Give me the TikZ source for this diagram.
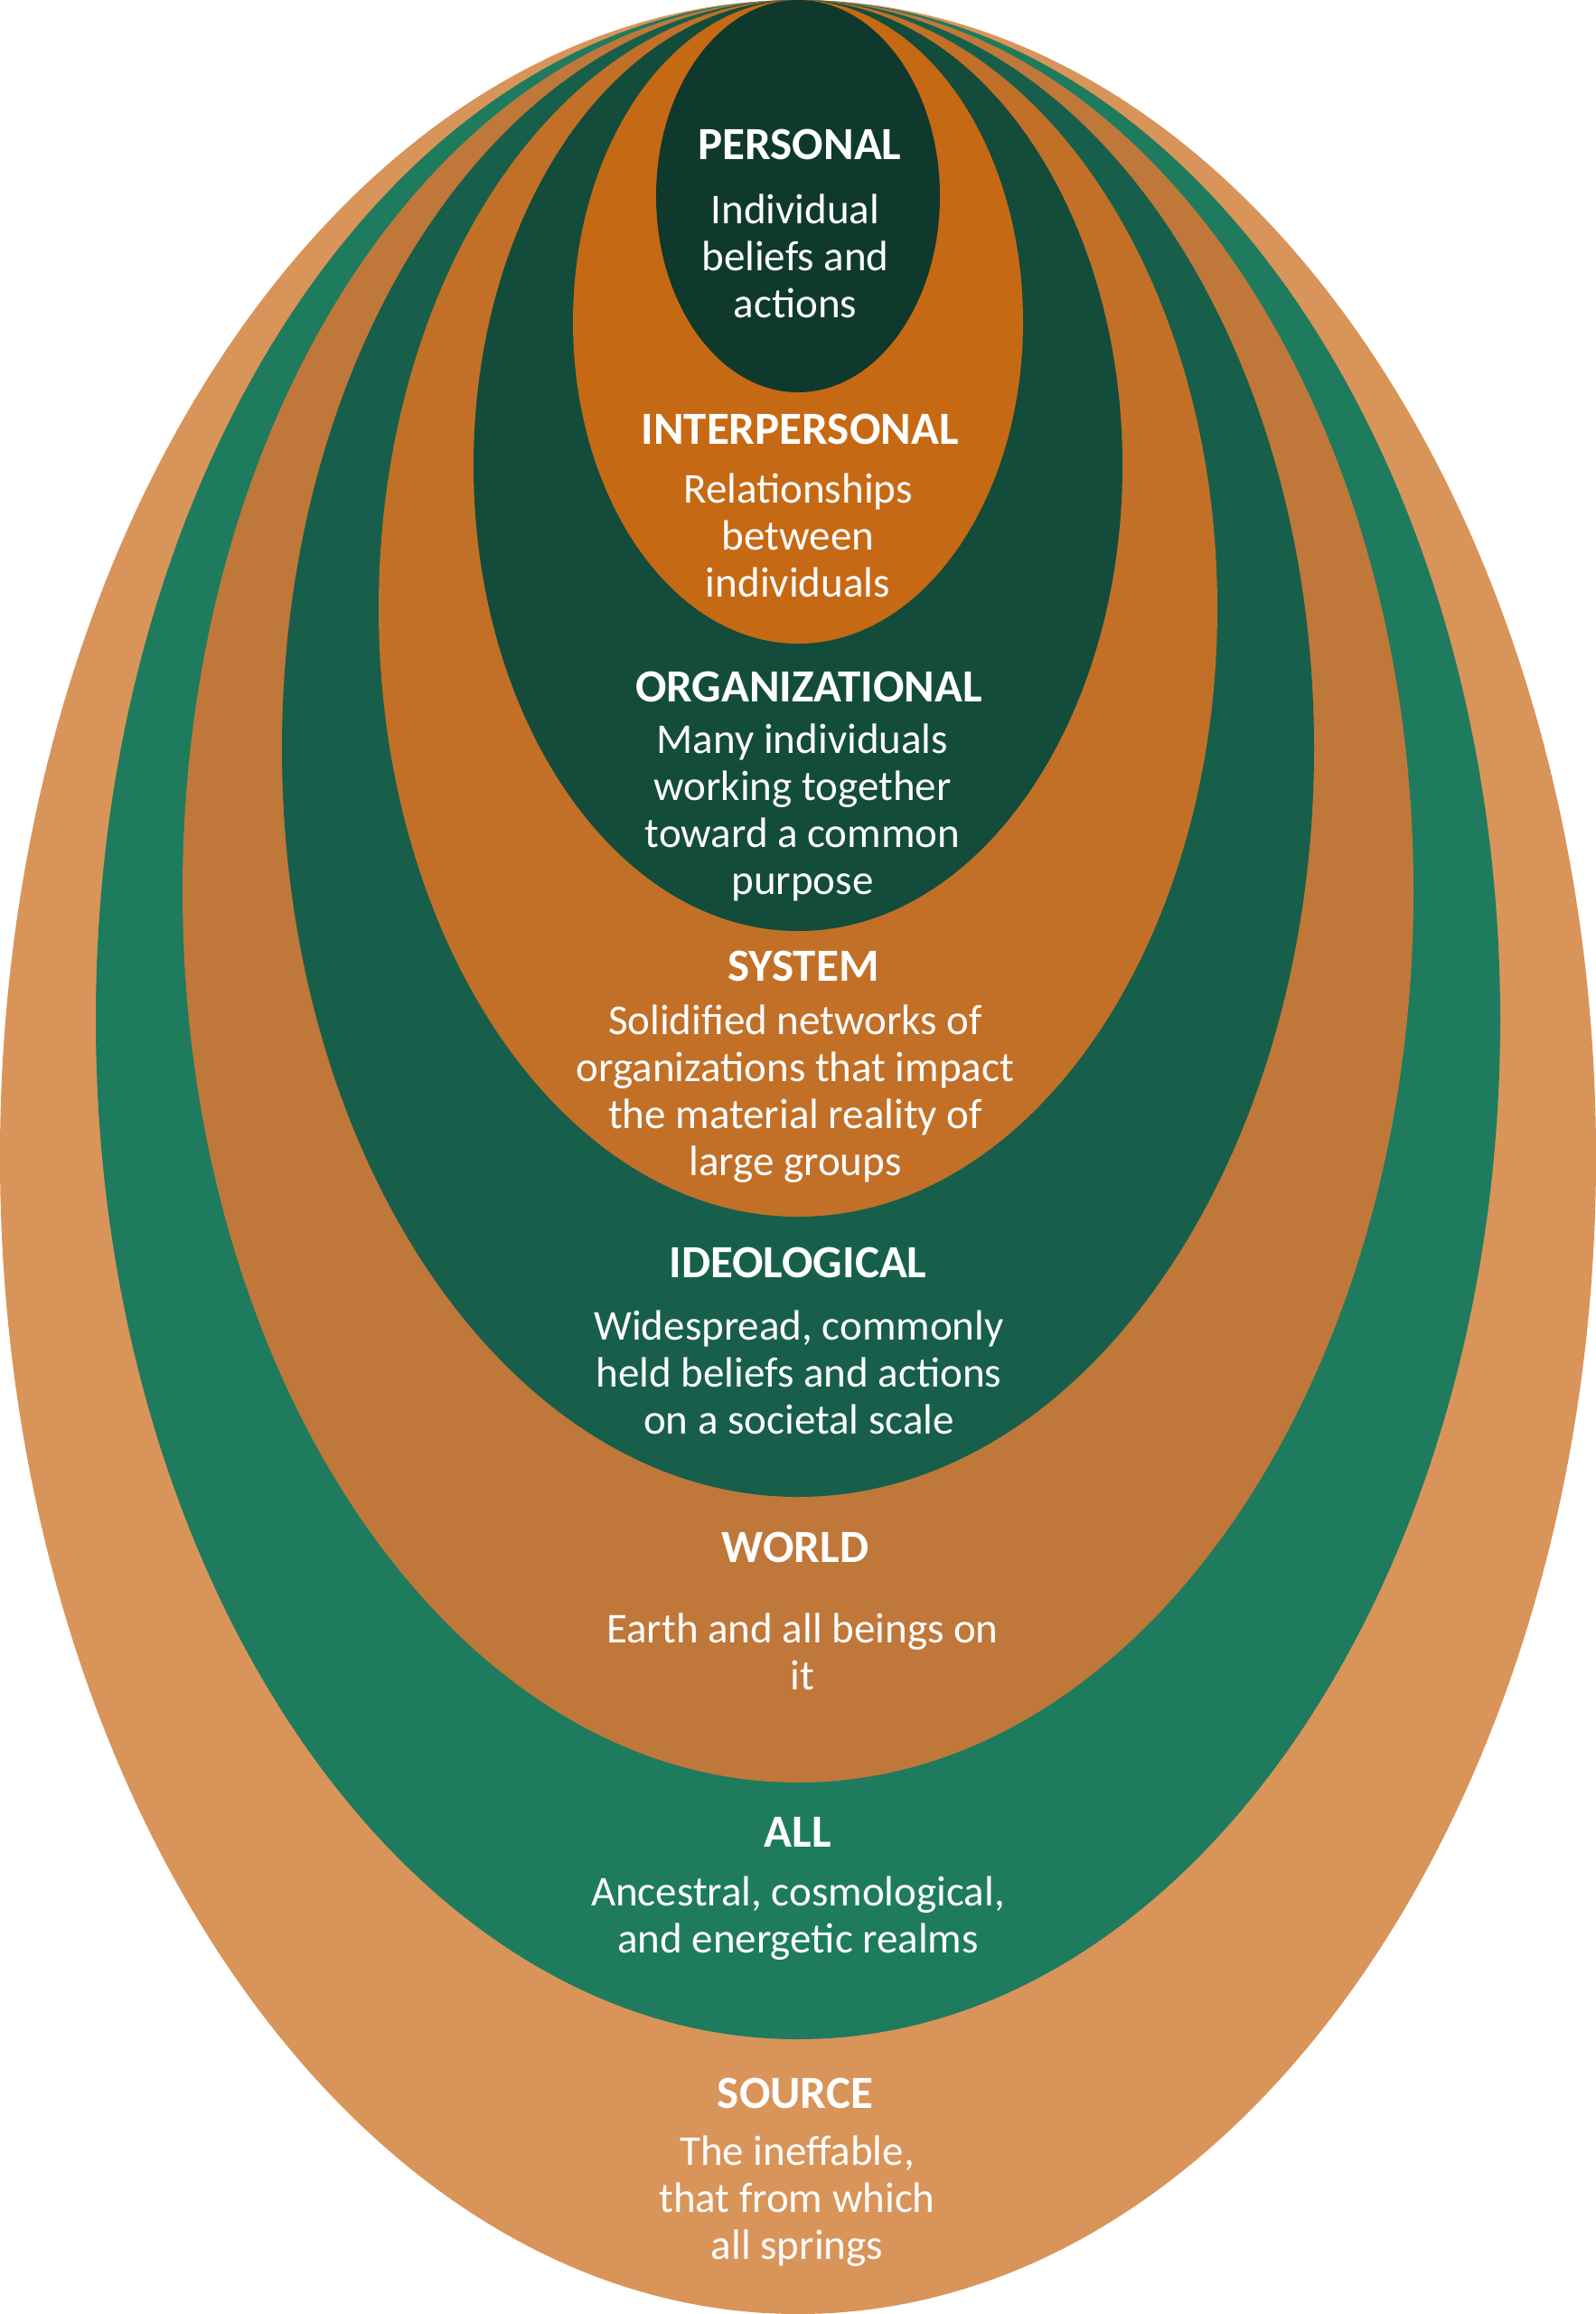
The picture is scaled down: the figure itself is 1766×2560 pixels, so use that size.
\documentclass[tikz,border=0pt]{standalone}
\usepackage{fontspec}
\setmainfont{Carlito}
\definecolor{cSource}{HTML}{D99459}
\definecolor{cAll}{HTML}{1E7B5E}
\definecolor{cWorld}{HTML}{C0773A}
\definecolor{cIdeo}{HTML}{175F4A}
\definecolor{cSystem}{HTML}{C27028}
\definecolor{cOrg}{HTML}{134C3B}
\definecolor{cInter}{HTML}{C66914}
\definecolor{cPersonal}{HTML}{0F392D}
\begin{document}
\begin{tikzpicture}[x=1pt,y=1pt,
  ttl/.style={text=white,inner sep=0pt,font=\fontsize{51}{56}\selectfont\bfseries},
  desc/.style={text=white,inner sep=0pt,align=center,font=\fontsize{47}{52}\selectfont}]
\useasboundingbox (0,0) rectangle (1766,-2560);
% nested layers, all touching the top edge
\fill[cSource]   (883,-1280) ellipse [x radius=883, y radius=1280];
\fill[cAll]      (883,-1128) ellipse [x radius=777, y radius=1128];
\fill[cWorld]    (883,-986)  ellipse [x radius=681, y radius=986];
\fill[cIdeo]     (883,-828)  ellipse [x radius=571, y radius=828];
\fill[cSystem]   (883,-673)  ellipse [x radius=464, y radius=673];
\fill[cOrg]      (883,-515)  ellipse [x radius=359, y radius=515];
\fill[cInter]    (883,-356)  ellipse [x radius=249, y radius=356];
\fill[cPersonal] (883,-217)  ellipse [x radius=157, y radius=217];
% labels
\node[ttl]  (tPersonal) at (885,-160) {PERSONAL};
\node[desc] (dPersonal) at (880,-283) {Individual\\beliefs and\\actions};
\node[ttl]  (tInter) at (885,-475) {INTERPERSONAL};
\node[desc] (dInter) at (883,-592) {Relationships\\between\\individuals};
\node[ttl]  (tOrg) at (895,-760) {ORGANIZATIONAL};
\node[desc] (dOrg) at (888,-899) {Many individuals\\working together\\toward a common\\purpose};
\node[ttl]  (tSystem) at (889,-1069) {SYSTEM};
\node[desc] (dSystem) at (880,-1210) {Solidified networks of\\organizations that impact\\the material reality of\\large groups};
\node[ttl]  (tIdeo) at (883,-1397) {IDEOLOGICAL};
\node[desc] (dIdeo) at (884,-1518) {Widespread, commonly\\held beliefs and actions\\on a societal scale};
\node[ttl]  (tWorld) at (880,-1712) {WORLD};
\node[desc] (dWorld) at (888,-1827) {Earth and all beings on\\it};
\node[ttl]  (tAll) at (883,-2027) {ALL};
\node[desc] (dAll) at (883,-2122) {Ancestral, cosmological,\\and energetic realms};
\node[ttl]  (tSource) at (880,-2316) {SOURCE};
\node[desc] (dSource) at (882,-2435) {The ineffable,\\that from which\\all springs};
\end{tikzpicture}
\end{document}
